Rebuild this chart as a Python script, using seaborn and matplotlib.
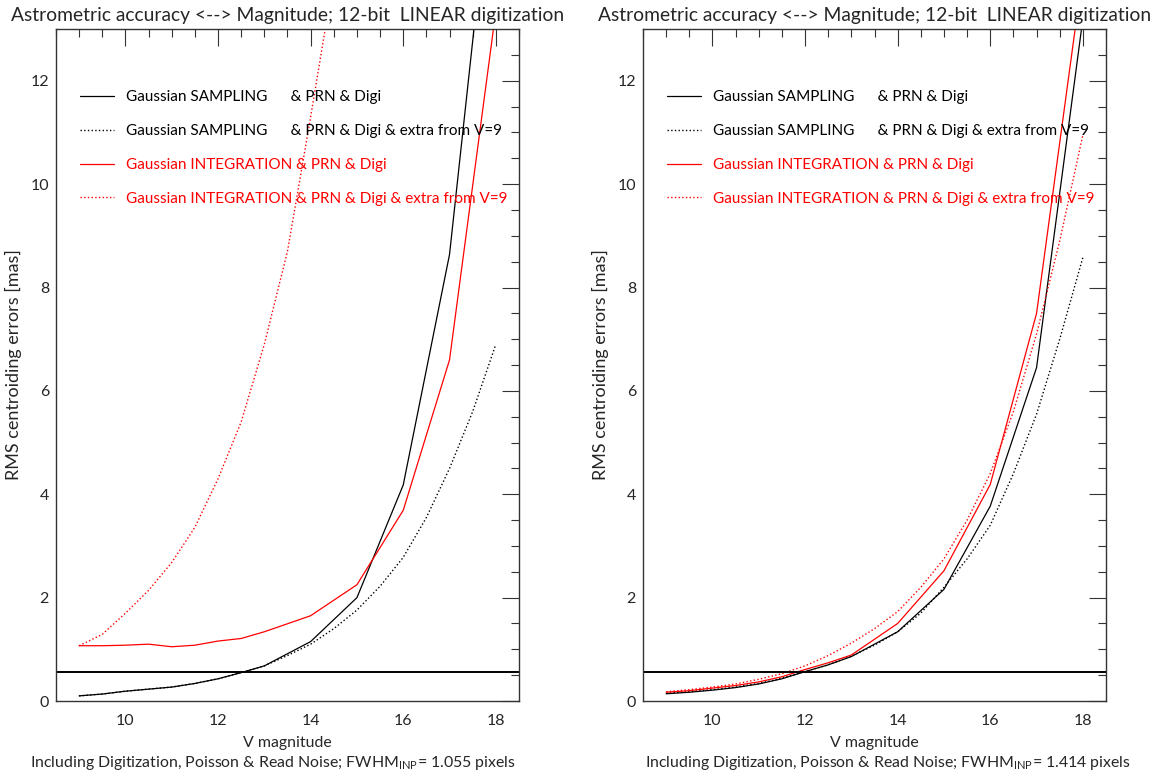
import numpy as np
import pandas as pd
import matplotlib.pyplot as plt
import seaborn as sns
from matplotlib.ticker import MultipleLocator

# V magnitudes of the solid curves (half steps up to 13, then whole)
mag_solid = [9, 9.5, 10, 10.5, 11, 11.5, 12, 12.5, 13, 14, 15, 16, 17, 18]
# dotted curves are sampled every half magnitude
mag_dotted = [9, 9.5, 10, 10.5, 11, 11.5, 12, 12.5, 13, 13.5, 14, 14.5, 15,
              15.5, 16, 16.5, 17, 17.5, 18]

# left panel: FWHM_INP = 1.055 pixels
left_samp = [0.10, 0.135, 0.19, 0.23, 0.27, 0.34, 0.43, 0.55, 0.68, 1.15, 2.0, 4.18, 8.64, 16.9]
left_samp_extra = [0.10, 0.135, 0.19, 0.23, 0.27, 0.34, 0.43, 0.55, 0.68, 0.88, 1.10, 1.40,
                   1.76, 2.22, 2.78, 3.55, 4.5, 5.6, 6.9]
left_integ = [1.07, 1.07, 1.08, 1.10, 1.05, 1.08, 1.16, 1.21, 1.34, 1.65, 2.25, 3.69, 6.6, 13.35]
left_integ_extra = [1.07, 1.29, 1.70, 2.14, 2.68, 3.36, 4.3, 5.4, 6.9, 8.7, 11.3, 14.0,
                    17.5, 21.5, 26.0, 31.0, 37.0, 44.0, 52.0]

# right panel: FWHM_INP = 1.414 pixels
right_samp = [0.14, 0.17, 0.21, 0.26, 0.33, 0.43, 0.57, 0.70, 0.86, 1.34, 2.16, 3.77, 6.45, 13.2]
right_samp_extra = [0.15, 0.18, 0.22, 0.27, 0.34, 0.44, 0.57, 0.70, 0.87, 1.08, 1.34, 1.70,
                    2.2, 2.75, 3.4, 4.4, 5.55, 7.0, 8.58]
right_integ = [0.17, 0.20, 0.25, 0.30, 0.37, 0.47, 0.61, 0.74, 0.89, 1.50, 2.52, 4.19, 7.5, 14.1]
right_integ_extra = [0.18, 0.22, 0.27, 0.33, 0.42, 0.53, 0.68, 0.88, 1.12, 1.40, 1.73, 2.2,
                     2.75, 3.5, 4.4, 5.6, 7.1, 8.9, 10.95]

fwhm_labels = ["1.055", "1.414"]
limit_level = 0.57

labels = ["Gaussian SAMPLING      & PRN & Digi",
          "Gaussian SAMPLING      & PRN & Digi & extra from V=9",
          "Gaussian INTEGRATION & PRN & Digi",
          "Gaussian INTEGRATION & PRN & Digi & extra from V=9"]

sns.set_style("white")
plt.rcParams['font.family'] = ['Lato', 'DejaVu Sans']
plt.rcParams['mathtext.fontset'] = 'custom'
plt.rcParams['mathtext.rm'] = 'Lato'

fig = plt.figure(figsize=(11.71, 7.81), dpi=100)
ax_left = fig.add_axes([0.0478, 0.1024, 0.3954, 0.8604])
ax_right = fig.add_axes([0.5491, 0.1024, 0.3954, 0.8604])

# (axes, curves..., fwhm text, horizontal centre of the footnote)
panels = [
    (ax_left, left_samp, left_samp_extra, left_integ, left_integ_extra, fwhm_labels[0], 0.469),
    (ax_right, right_samp, right_samp_extra, right_integ, right_integ_extra, fwhm_labels[1], 0.529),
]

for ax, samp, samp_x, integ, integ_x, fwhm, note_x in panels:
    sns.lineplot(x=mag_solid, y=samp, color='black', lw=0.9, ax=ax, label=labels[0])
    sns.lineplot(x=mag_dotted, y=samp_x, color='black', lw=1.0, linestyle=':', ax=ax, label=labels[1])
    sns.lineplot(x=mag_solid, y=integ, color='red', lw=0.9, ax=ax, label=labels[2])
    sns.lineplot(x=mag_dotted, y=integ_x, color='red', lw=1.0, linestyle=':', ax=ax, label=labels[3])
    ax.axhline(limit_level, color='black', lw=1.4)

    ax.set_xlim(8.5, 18.5)
    ax.set_ylim(0, 13)
    ax.xaxis.set_major_locator(MultipleLocator(2))
    ax.xaxis.set_minor_locator(MultipleLocator(0.5))
    ax.yaxis.set_major_locator(MultipleLocator(2))
    ax.yaxis.set_minor_locator(MultipleLocator(0.5))
    ax.set_xticks([10, 12, 14, 16, 18])
    ax.tick_params(which='both', direction='in', top=True, right=True, labelsize=11.5,
                   color='#333333', width=0.8)
    ax.tick_params(which='major', length=12)
    ax.tick_params(axis='x', which='major', pad=9)
    ax.tick_params(axis='y', which='major', pad=5)
    ax.tick_params(which='minor', length=6)
    for sp in ax.spines.values():
        sp.set_color('#333333')
        sp.set_linewidth(1.0)

    ax.set_title("Astrometric accuracy <--> Magnitude; 12-bit  LINEAR digitization",
                 fontsize=13.9, pad=6)
    ax.set_xlabel("V magnitude", fontsize=11.4, labelpad=6)
    ax.text(note_x, -0.0923, "Including Digitization, Poisson & Read Noise; "
            "FWHM$_{\\mathregular{INP}}$= " + fwhm + " pixels",
            transform=ax.transAxes, ha='center', va='center', fontsize=11.4)
    ax.set_ylabel("RMS centroiding errors [mas]", fontsize=13, labelpad=6)

    leg = ax.legend(loc='upper left', bbox_to_anchor=(0.052, 0.909), frameon=False,
                    fontsize=11, handlelength=2.2, handletextpad=0.8,
                    labelspacing=1.3, borderpad=0, borderaxespad=0)
    for txt, col in zip(leg.get_texts(), ['black', 'black', 'red', 'red']):
        txt.set_color(col)

plt.savefig('out.png', dpi=100)
